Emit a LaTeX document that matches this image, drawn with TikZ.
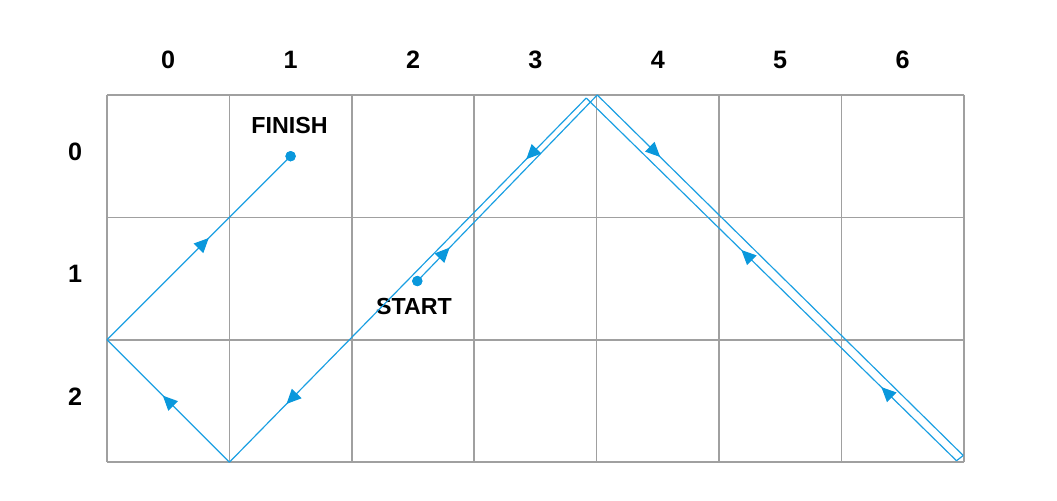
\documentclass[tikz,border=0pt]{standalone}
\usepackage{fontspec}
\setmainfont{Liberation Sans}
\usetikzlibrary{arrows.meta,decorations.markings}
\definecolor{pathblue}{HTML}{1A9FE2}
\definecolor{dotblue}{HTML}{0A98DC}
\definecolor{gridgray}{HTML}{A0A0A0}
\begin{document}
\begin{tikzpicture}[x=2cm,y=-2cm,
  gridline/.style={draw=gridgray, line width=0.7pt},
  trail/.style={draw=pathblue, line width=0.55pt, line join=miter},
  midarrow/.style={postaction={decorate, decoration={markings,
      mark=at position #1 with {\arrow[dotblue]{Triangle[length=6.8pt,width=6.2pt]}}}}},
  axislabel/.style={font=\fontsize{11.7}{14}\selectfont\bfseries, inner sep=0pt},
  tag/.style={font=\fontsize{10.8}{13}\selectfont\bfseries, inner sep=0pt},
  dot/.style={circle, fill=dotblue, inner sep=0pt, minimum size=4.8pt}]
\useasboundingbox (-0.874,-0.776) rectangle (7.761,3.309);
% grid
\foreach \i in {0,...,7} \draw[gridline] (\i,0) -- (\i,3);
\foreach \j in {0,...,3} \draw[gridline] (0,\j) -- (7,\j);
% labels
\foreach \i in {0,...,6} \node[axislabel] (col\i) at (\i+0.5,-0.29) {\i};
\foreach \j in {0,...,2} \node[axislabel] (row\j) at (-0.26,\j+0.465) {\j};
\node[tag] (finishlabel) at (1.491,0.252) {FINISH};
\node[tag] (startlabel) at (2.508,1.724) {START};
% corner points of the trail
\coordinate (B) at (4.005,0);
\coordinate (C1) at (6.995,2.945);
\coordinate (C2) at (6.94,2.988);
\coordinate (A) at (3.915,0.025);
\coordinate (D) at (1,3);
\coordinate (E) at (0,2);
\node[dot] (start) at (2.535,1.52) {};
\node[dot] (finish) at (1.5,0.5) {};
% trail
\draw[trail, midarrow=0.18] (start.center) -- (B);
\draw[trail, midarrow=0.172] (B) -- (C1);
\draw[trail] (C1) -- (C2);
\draw[trail, midarrow=0.203, midarrow=0.581] (C2) -- (A);
\draw[trail, midarrow=0.168, midarrow=0.84] (A) -- (D);
\draw[trail, midarrow=0.545] (D) -- (E);
\draw[trail, midarrow=0.555] (E) -- (finish.center);
\node[dot] at (start.center) {};
\node[dot] at (finish.center) {};
\end{tikzpicture}
\end{document}
